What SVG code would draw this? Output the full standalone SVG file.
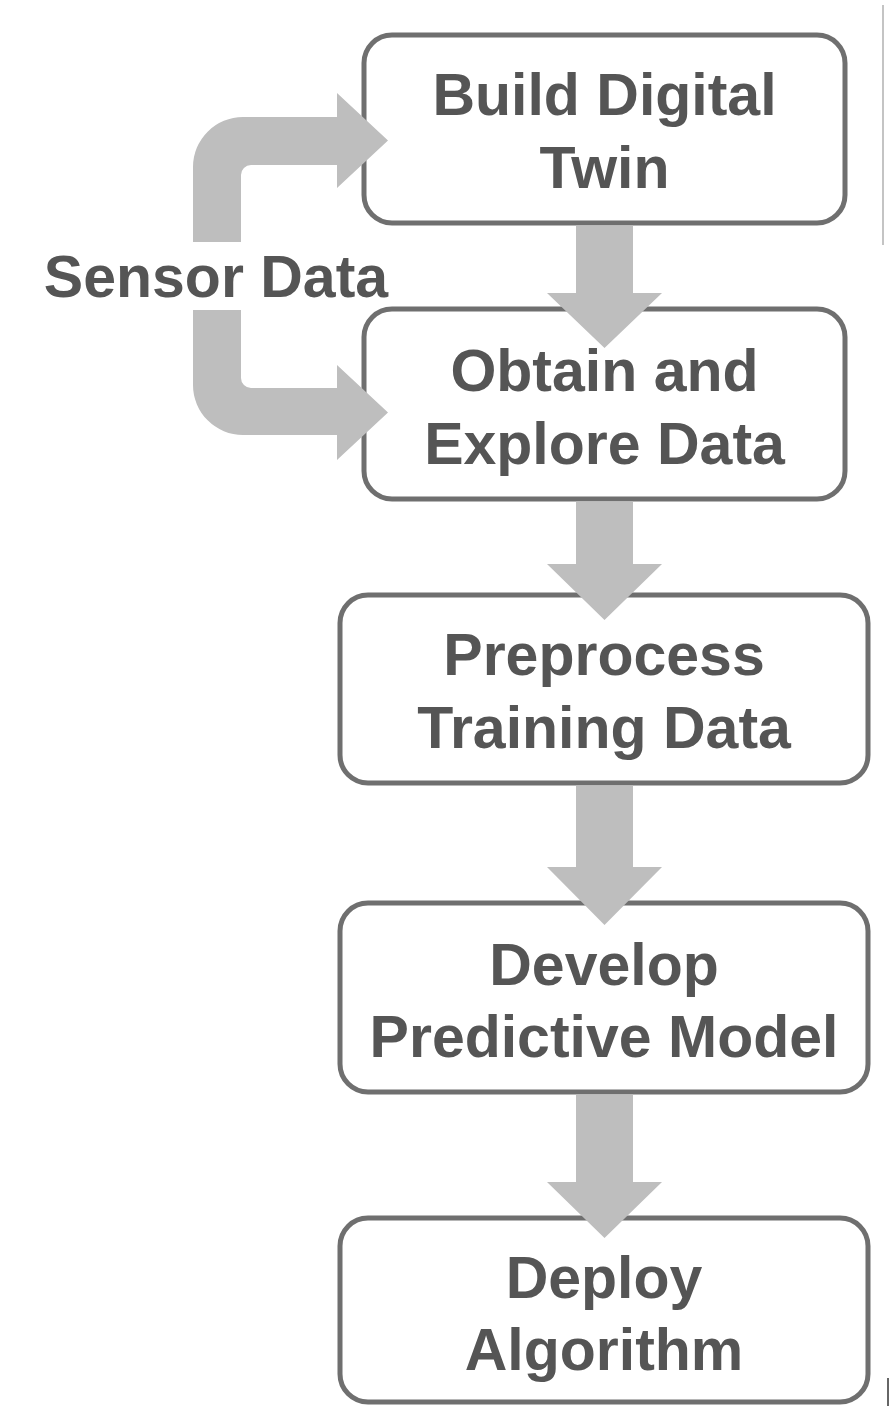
<svg xmlns="http://www.w3.org/2000/svg" width="892" height="1406" viewBox="0 0 892 1406">
<style>
.box{fill:none;stroke:#6f6f6f;stroke-width:5}
.lbl{font-family:"Liberation Sans",Arial,sans-serif;font-weight:bold;font-size:59px;fill:#555555;text-anchor:middle}
.arw{fill:#bebebe;stroke:none}
</style>
<rect x="0" y="0" width="892" height="1406" fill="#ffffff"/>
<line x1="883" y1="5" x2="883" y2="245" stroke="#b0b0b0" stroke-width="1.5"/>
<line x1="888" y1="1378" x2="888" y2="1406" stroke="#666666" stroke-width="2"/>
<g id="nodes">
<g id="build-digital-twin">
<rect class="box" x="364" y="35" width="481" height="188" rx="28"/>
<text class="lbl" x="604.5" y="115">Build Digital</text>
<text class="lbl" x="604.5" y="188">Twin</text>
</g>
<g id="obtain-explore-data">
<rect class="box" x="364" y="309" width="481" height="190" rx="28"/>
<text class="lbl" x="604.5" y="391">Obtain and</text>
<text class="lbl" x="604.5" y="464">Explore Data</text>
</g>
<g id="preprocess-training-data">
<rect class="box" x="340" y="595" width="528" height="188" rx="28"/>
<text class="lbl" x="604" y="675">Preprocess</text>
<text class="lbl" x="604" y="748">Training Data</text>
</g>
<g id="develop-predictive-model">
<rect class="box" x="340" y="903" width="528" height="189" rx="28"/>
<text class="lbl" x="604" y="985">Develop</text>
<text class="lbl" x="604" y="1057">Predictive Model</text>
</g>
<g id="deploy-algorithm">
<rect class="box" x="340" y="1218" width="528" height="184" rx="28"/>
<text class="lbl" x="604" y="1298">Deploy</text>
<text class="lbl" x="604" y="1370">Algorithm</text>
</g>
<g id="sensor-data-label">
<text class="lbl" x="216" y="297">Sensor Data</text>
</g>
</g>
<g id="connectors">
<path class="arw" d="M193,242 L193,167 A50,50 0 0 1 243,117 L337,117 L337,93 L388,140.5 L337,188 L337,165 L251,165 A10,10 0 0 0 241,175 L241,242 Z"/>
<path class="arw" d="M193,310 L193,385 A50,50 0 0 0 243,435 L337,435 L337,460 L388,412.5 L337,365 L337,388 L251,388 A10,10 0 0 1 241,378 L241,310 Z"/>
<path class="arw" d="M576,225.5 L633,225.5 L633,293 L662,293 L604.5,348 L547,293 L576,293 Z"/>
<path class="arw" d="M576,501.5 L633,501.5 L633,564 L662,564 L604.5,620 L547,564 L576,564 Z"/>
<path class="arw" d="M576,785.5 L633,785.5 L633,867 L662,867 L604.5,925 L547,867 L576,867 Z"/>
<path class="arw" d="M576,1094.5 L633,1094.5 L633,1182 L662,1182 L604.5,1238 L547,1182 L576,1182 Z"/>
</g>
</svg>
